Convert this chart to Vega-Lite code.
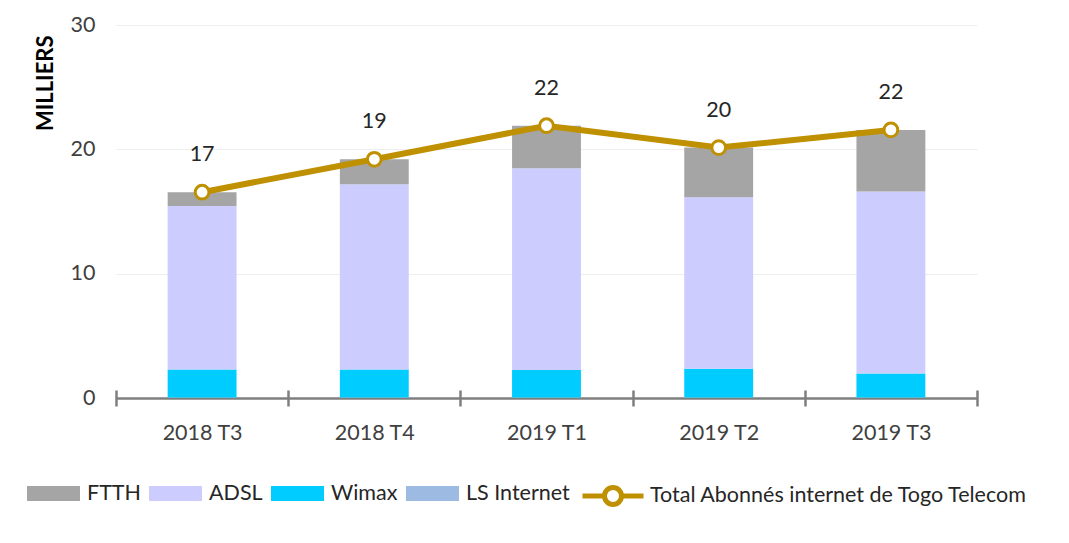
{
  "$schema": "https://vega.github.io/schema/vega-lite/v6.json",
  "width": 861,
  "height": 373,
  "autosize": {"type": "none"},
  "padding": {"left": 116, "top": 25, "right": 92, "bottom": 145},
  "background": "white",
  "config": {"font": "Lato", "view": {"stroke": null}},
  "datasets": {
    "series": [
      {"quarter": "2018 T3", "series": "LS Internet", "rang": 0, "value": 0.05},
      {"quarter": "2018 T3", "series": "Wimax", "rang": 1, "value": 2.25},
      {"quarter": "2018 T3", "series": "ADSL", "rang": 2, "value": 13.15},
      {"quarter": "2018 T3", "series": "FTTH", "rang": 3, "value": 1.1},
      {"quarter": "2018 T4", "series": "LS Internet", "rang": 0, "value": 0.05},
      {"quarter": "2018 T4", "series": "Wimax", "rang": 1, "value": 2.25},
      {"quarter": "2018 T4", "series": "ADSL", "rang": 2, "value": 14.9},
      {"quarter": "2018 T4", "series": "FTTH", "rang": 3, "value": 2.0},
      {"quarter": "2019 T1", "series": "LS Internet", "rang": 0, "value": 0.05},
      {"quarter": "2019 T1", "series": "Wimax", "rang": 1, "value": 2.2},
      {"quarter": "2019 T1", "series": "ADSL", "rang": 2, "value": 16.23},
      {"quarter": "2019 T1", "series": "FTTH", "rang": 3, "value": 3.42},
      {"quarter": "2019 T2", "series": "LS Internet", "rang": 0, "value": 0.05},
      {"quarter": "2019 T2", "series": "Wimax", "rang": 1, "value": 2.31},
      {"quarter": "2019 T2", "series": "ADSL", "rang": 2, "value": 13.78},
      {"quarter": "2019 T2", "series": "FTTH", "rang": 3, "value": 4.0},
      {"quarter": "2019 T3", "series": "LS Internet", "rang": 0, "value": 0.05},
      {"quarter": "2019 T3", "series": "Wimax", "rang": 1, "value": 1.93},
      {"quarter": "2019 T3", "series": "ADSL", "rang": 2, "value": 14.62},
      {"quarter": "2019 T3", "series": "FTTH", "rang": 3, "value": 4.96}
    ],
    "totals": [
      {"quarter": "2018 T3", "total": 16.55},
      {"quarter": "2018 T4", "total": 19.2},
      {"quarter": "2019 T1", "total": 21.9},
      {"quarter": "2019 T2", "total": 20.14},
      {"quarter": "2019 T3", "total": 21.56}
    ]
  },
  "layer": [
    {
      "data": {"name": "series"},
      "mark": {"type": "bar", "width": {"band": 0.4}},
      "encoding": {
        "x": {
          "field": "quarter",
          "type": "nominal",
          "scale": {"domain": ["2018 T3", "2018 T4", "2019 T1", "2019 T2", "2019 T3"], "paddingInner": 0, "paddingOuter": 0},
          "axis": {
            "title": null,
            "domainColor": "#7F7F7F",
            "domainWidth": 2.5,
            "tickColor": "#7F7F7F",
            "tickWidth": 2.5,
            "tickSize": 8,
            "tickBand": "extent",
            "labelFontSize": 21.5,
            "labelColor": "#404040",
            "labelPadding": 16,
            "labelAngle": 0,
            "grid": false,
            "encoding": {"ticks": {"y": {"value": -8}, "y2": {"value": 8}}}
          }
        },
        "y": {
          "field": "value",
          "type": "quantitative",
          "stack": "zero",
          "scale": {"domain": [0, 30]},
          "axis": {
            "title": "MILLIERS",
            "titleFontSize": 22,
            "titleFontWeight": "bold",
            "titleColor": "#000000",
            "titleAngle": -90,
            "titleAlign": "right",
            "titleBaseline": "middle",
            "titleX": -71,
            "titleY": 10,
            "values": [0, 10, 20, 30],
            "grid": true,
            "gridColor": "#EEEEEE",
            "gridWidth": 1,
            "domain": false,
            "ticks": false,
            "tickSize": 0,
            "labelPadding": 21,
            "labelFontSize": 21.5,
            "labelColor": "#404040"
          }
        },
        "color": {
          "field": "series",
          "type": "nominal",
          "scale": {"domain": ["FTTH", "ADSL", "Wimax", "LS Internet"], "range": ["#A5A5A5", "#CCCCFF", "#00CCFF", "#9DBAE2"]},
          "legend": {
            "title": null,
            "orient": "none",
            "legendX": -89,
            "legendY": 442,
            "direction": "horizontal",
            "symbolType": "M-1,-0.283H1V0.283H-1Z",
            "symbolSize": 2809,
            "symbolStrokeWidth": 0,
            "labelFontSize": 21.5,
            "labelColor": "#262626",
            "labelOffset": 7,
            "columnPadding": 8,
            "padding": 0,
            "labelLimit": 600
          }
        },
        "order": {"field": "rang", "type": "quantitative"}
      }
    },
    {
      "data": {"name": "totals"},
      "layer": [
        {
          "mark": {"type": "line", "strokeWidth": 6},
          "encoding": {
            "x": {"field": "quarter", "type": "nominal"},
            "y": {
              "field": "total",
              "type": "quantitative",
              "scale": {"domain": [0, 30]},
              "axis": {
                "orient": "right",
                "title": null,
                "values": [0, 10, 20, 30],
                "grid": false,
                "domain": false,
                "ticks": false,
                "tickSize": 0,
                "labelPadding": 25,
                "labelFontSize": 21.5,
                "labelColor": "#404040"
              }
            },
            "color": {
              "datum": "Total Abonnés internet de Togo Telecom",
              "type": "nominal",
              "scale": {"range": ["#BF9000"]},
              "legend": {
                "title": null,
                "orient": "none",
                "legendX": 464,
                "legendY": 438,
                "symbolType": "M-1,0H-0.28M0.28,0H1M0.28,0A0.28,0.28 0 1 1 -0.28,0A0.28,0.28 0 1 1 0.28,0",
                "symbolSize": 3721,
                "symbolStrokeWidth": 5,
                "symbolFillColor": "white",
                "symbolStrokeColor": "#BF9000",
                "labelFontSize": 21.5,
                "labelColor": "#262626",
                "labelOffset": 4,
                "padding": 0,
                "labelLimit": 600
              }
            }
          }
        },
        {
          "mark": {"type": "point", "filled": true, "fill": "white", "stroke": "#BF9000", "strokeWidth": 3, "size": 190, "opacity": 1},
          "encoding": {
            "x": {"field": "quarter", "type": "nominal"},
            "y": {"field": "total", "type": "quantitative", "axis": null}
          }
        },
        {
          "mark": {"type": "text", "dy": -37, "fontSize": 21.5, "color": "#262626", "baseline": "middle"},
          "encoding": {
            "x": {"field": "quarter", "type": "nominal"},
            "y": {"field": "total", "type": "quantitative", "axis": null},
            "text": {"field": "total", "type": "quantitative", "format": ".0f"}
          }
        }
      ]
    }
  ],
  "resolve": {"scale": {"y": "independent", "color": "independent"}}
}
